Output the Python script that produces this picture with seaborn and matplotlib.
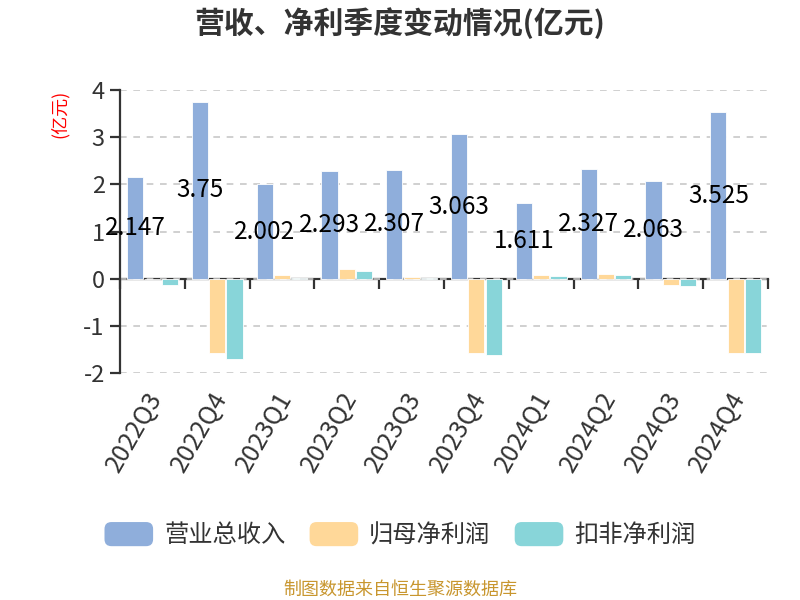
import pandas as pd
import matplotlib
matplotlib.use("Agg")
import matplotlib.pyplot as plt
import matplotlib.transforms as mtransforms
import seaborn as sns
from matplotlib.patches import FancyBboxPatch, Patch
from matplotlib.legend_handler import HandlerPatch

# 数据（亿元）
quarters = ["2022Q3", "2022Q4", "2023Q1", "2023Q2", "2023Q3",
            "2023Q4", "2024Q1", "2024Q2", "2024Q3", "2024Q4"]
revenue = [2.147, 3.75, 2.002, 2.293, 2.307, 3.063, 1.611, 2.327, 2.063, 3.525]
net_profit = [0.005, -1.58, 0.07, 0.21, 0.03, -1.58, 0.08, 0.10, -0.13, -1.58]
net_profit_deducted = [-0.13, -1.69, 0.02, 0.155, 0.01, -1.61, 0.06, 0.08, -0.15, -1.58]

series_names = ["营业总收入", "归母净利润", "扣非净利润"]
colors = ["#8FAEDB", "#FFD899", "#88D5D9"]

df = pd.DataFrame({
    "季度": quarters * 3,
    "值": revenue + net_profit + net_profit_deducted,
    "指标": [n for n in series_names for _ in quarters],
})

sns.set_theme(style="white")
plt.rcParams["font.family"] = ["Noto Sans CJK SC", "DejaVu Sans"]
plt.rcParams["axes.unicode_minus"] = False

fig = plt.figure(figsize=(8, 6), dpi=100)
ax = fig.add_axes([0.15, 0.378, 0.81, 0.472])

sns.barplot(data=df, x="季度", y="值", hue="指标", hue_order=series_names,
            palette=colors, saturation=1, width=0.8, gap=0.07, ax=ax,
            legend=False, edgecolor="white", linewidth=0.6, zorder=3)

ax.set_ylim(-2, 4)
ax.set_xlim(-0.5, len(quarters) - 0.5)
ax.set_yticks(range(-2, 5))
ax.set_xlabel("")
ax.set_ylabel("")

# 网格线
ax.yaxis.grid(True, linestyle=(0, (4, 4)), color="#C8C8C8", linewidth=1.2, zorder=0)
ax.xaxis.grid(False)

for s in ["top", "right", "bottom"]:
    ax.spines[s].set_visible(False)
ax.spines["left"].set_color("#333333")
ax.spines["left"].set_linewidth(1.6)

ax.tick_params(axis="y", left=True, length=7, width=1.6, color="#333333",
               labelsize=17, labelcolor="#333333", pad=4)
ax.tick_params(axis="x", bottom=False, labelsize=18, labelcolor="#333333", pad=4)
shift = mtransforms.ScaledTranslation(-5 / 72, 0, fig.dpi_scale_trans)
for lbl in ax.get_xticklabels():
    lbl.set_rotation(60)
    lbl.set_ha("right")
    lbl.set_va("top")
    lbl.set_rotation_mode("anchor")
    lbl.set_transform(lbl.get_transform() + shift)

# 0 轴线 + 分类边界刻度
zero_pos = (0 - (-2)) / (4 - (-2))
sec = ax.secondary_xaxis(zero_pos)
sec.set_xticks([i - 0.5 for i in range(len(quarters) + 1)])
sec.set_xticklabels([])
sec.tick_params(length=7, width=1.6, color="#333333")
sec.spines["bottom"].set_color("#333333")
sec.spines["bottom"].set_linewidth(1.6)

# 营收数值标签
ax.bar_label(ax.containers[0], labels=[str(v) for v in revenue],
             label_type="center", fontsize=17.5, color="black", zorder=5)

fig.text(0.5, 0.962, "营收、净利季度变动情况(亿元)", ha="center", va="center",
         fontsize=21.5, fontweight="bold", color="#333333")
fig.text(0.075, 0.81, "(亿元)", rotation=90, ha="center", va="center",
         fontsize=13, color="red")


class RoundHandler(HandlerPatch):
    def create_artists(self, legend, orig_handle, xdescent, ydescent,
                       width, height, fontsize, trans):
        p = FancyBboxPatch((-xdescent, -ydescent), width, height,
                           boxstyle="round,pad=0,rounding_size=5",
                           facecolor=orig_handle.get_facecolor(),
                           edgecolor="none", transform=trans)
        return [p]


handles = [Patch(facecolor=c, label=n) for c, n in zip(colors, series_names)]
fig.legend(handles=handles, loc="center", bbox_to_anchor=(0.5, 0.108), ncol=3,
           frameon=False, fontsize=17.5, handlelength=2.0, handleheight=1.15,
           handletextpad=0.45, columnspacing=1.0, labelcolor="#333333",
           handler_map={Patch: RoundHandler()})

fig.text(0.5, 0.018, "制图数据来自恒生聚源数据库", ha="center", va="center",
         fontsize=13, color="#C8962E")

fig.savefig("out.png", dpi=100)
